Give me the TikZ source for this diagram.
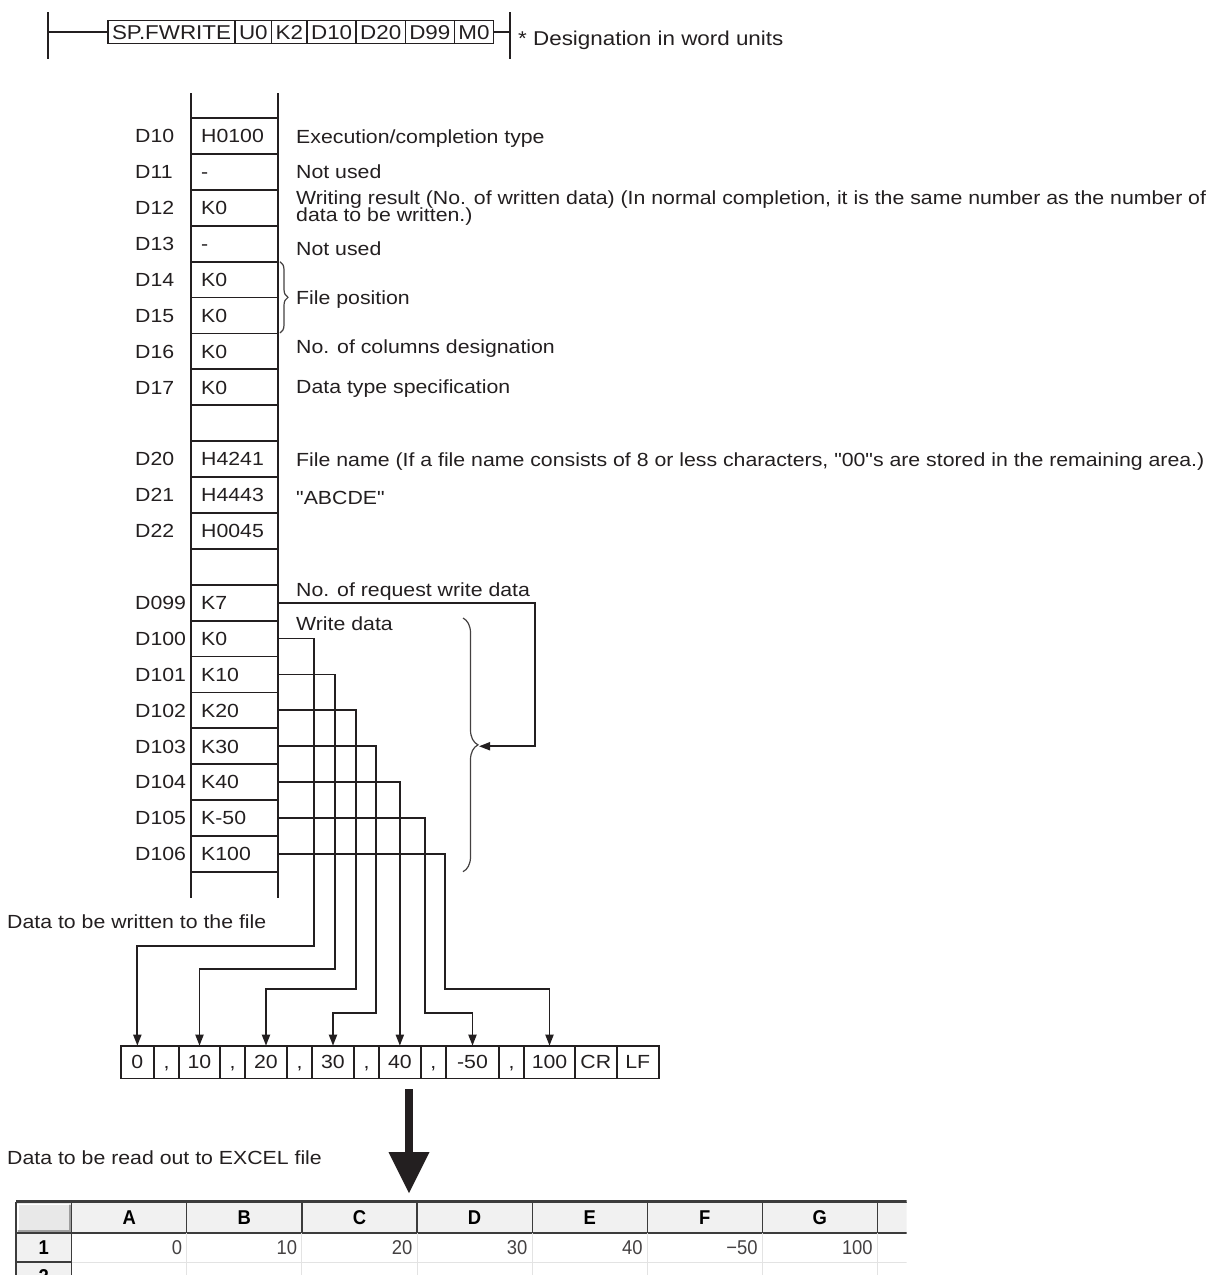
\documentclass[tikz,border=0pt]{standalone}
\usepackage{fontspec}
\setmainfont{Liberation Sans}[FakeStretch=1.12,Ligatures=TeXOff]
\newfontfamily\sheetfont{Liberation Sans}[FakeStretch=0.92]
\usetikzlibrary{positioning,arrows.meta,decorations.pathreplacing}
\definecolor{ink}{HTML}{231F20}
\definecolor{hdrfill}{HTML}{F1F1F1}
\definecolor{gridline}{HTML}{E3E3E3}
\definecolor{sheetdark}{HTML}{3C3C3C}

\begin{document}
\begin{tikzpicture}[x=1pt,y=-1pt,
  txt/.style={inner sep=0pt,anchor=west,text height=13.6pt,text depth=0pt,text=ink,font=\fontsize{19}{19}\selectfont},
  reg/.style={draw=ink,line width=1.8pt,minimum width=86.7pt,minimum height=35.9pt,inner sep=0pt,outer sep=0pt},
  csv/.style={draw=ink,line width=1.6pt,minimum height=32.8pt,inner sep=0pt,outer sep=0pt,text height=13.6pt,text depth=0pt,text=ink,font=\fontsize{19}{19}\selectfont},
  ins/.style={draw=ink,line width=1.4pt,minimum height=22.5pt,inner xsep=4pt,inner ysep=0pt,outer sep=0pt,text height=14.3pt,text depth=0pt,text=ink,font=\fontsize{20}{20}\selectfont},
  wire/.style={draw=ink,line width=1.8pt},
  tip/.style={-{Triangle[length=11pt,width=8pt]}},
  curly/.style={draw=ink!85,line width=1.2pt,decorate,decoration={brace,amplitude=#1}},
  hdr/.style={draw=sheetdark,line width=1.2pt,fill=hdrfill,minimum width=115.1pt,minimum height=30.5pt,inner sep=0pt,outer sep=0pt,text height=14.3pt,text depth=0pt,font=\sheetfont\bfseries\fontsize{20}{20}\selectfont},
  cellnum/.style={inner sep=0pt,anchor=east,text height=14.3pt,text depth=0pt,text=ink!85,font=\sheetfont\fontsize{20}{20}\selectfont}]
\useasboundingbox (0,0) rectangle (1212,1275);

% ladder line
\draw[ink,line width=2.4pt] (48,12) -- (48,59);
\draw[ink,line width=2.4pt] (510,12) -- (510,59);
\coordinate (lr) at (48,32);
\coordinate (rr) at (510,32);
\node[ins,anchor=west,minimum width=126pt] (i1) at (108,32) {SP.FWRITE};
\foreach \t [count=\i from 2, remember=\i as \j (initially 1)] in {U0,K2,D10,D20,D99,M0}
  \node[ins,right=0pt of i\j] (i\i) {\t};
\draw[ink,line width=1.5pt] (lr) -- (i1.west) (i7.east) -- (rr);
\node[inner sep=0pt,anchor=west,text height=14.3pt,text depth=0pt,text=ink,font=\fontsize{20}{20}\selectfont] (note) at (518,38) {* Designation in word units};

% device memory
\foreach \lab/\val [count=\k from 0, evaluate=\k as \yy using 135.95+35.9*\k] in {D10/H0100,D11/-,D12/K0,D13/-,D14/K0,D15/K0,D16/K0,D17/K0,{}/{},D20/H4241,D21/H4443,D22/H0045,{}/{},D099/K7,D100/K0,D101/K10,D102/K20,D103/K30,D104/K40,D105/K-50,D106/K100} {
  \node[reg] (r\k) at (234.35,\yy) {};
  \node[txt] (l\k) at (135,\yy) {\lab};
  \node[txt] (v\k) at (201,\yy) {\val};
}
\draw[wire] (r0.north west) -- ++(0,-25) (r0.north east) -- ++(0,-25);
\draw[wire] (r20.south west) -- ++(0,26) (r20.south east) -- ++(0,26);

% descriptions
\node[txt] (d0) at (296,136.7) {Execution/completion type};
\node[txt] (d1) at (296,171.7) {Not used};
\node[txt] (d2) at (296,198) {Writing result (No. of written data) (In normal completion, it is the same number as the number of};
\node[txt] (d2b) at (296,215) {data to be written.)};
\node[txt] (d3) at (296,249) {Not used};
\draw[curly=8pt] (280,261.7) -- (280,333);
\node[txt] (d4) at (296,298) {File position};
\node[txt] (d6) at (296,347) {No. of columns designation};
\node[txt] (d7) at (296,387) {Data type specification};
\node[txt] (d9) at (296,459.3) {File name (If a file name consists of 8 or less characters, "00"s are stored in the remaining area.)};
\node[txt] (d10) at (296,498) {"ABCDE"};
\node[txt] (d13) at (296,590) {No. of request write data};
\node[txt] (d14) at (296,623.3) {Write data};
\draw[curly=15pt] (463,618) -- (463,871.7);
\coordinate (wtip) at (479,746.25);
\draw[wire,tip] (r13.east) -| (535,746.25) -- (wtip);

% data written to the file
\node[txt] (wlabel) at (7,921.7) {Data to be written to the file};
\coordinate (f0) at (120.7,1062.1);
\foreach \w/\t [count=\i, remember=\i as \j (initially 0)] in {33.3/0,25/{,},41/10,25/{,},42/20,25/{,},42/30,25/{,},41.7/40,25.3/{,},53/-50,25/{,},51/100,41.7/CR,42/LF}
  \node[csv,minimum width=\w pt,right=0pt of f\j] (f\i) {\t};

\draw[wire,tip] (r14.east) -| (314,945.7) -| (f1.north);
\draw[wire,tip] (r15.east) -| (335,969) -| (f3.north);
\draw[wire,tip] (r16.east) -| (356,989) -| (f5.north);
\draw[wire,tip] (r17.east) -| (376,1013) -| (f7.north);
\draw[wire,tip] (r18.east) -| (f9.north);
\draw[wire,tip] (r19.east) -| (425,1013) -| (f11.north);
\draw[wire,tip] (r20.east) -| (445,989) -| (f13.north);

% read out to EXCEL
\coordinate (bigtop) at (409,1089);
\coordinate (bigtip) at (409,1193);
\draw[ink,line width=8.3pt,-{Triangle[length=41pt,width=41pt,line width=0pt]}] (bigtop) -- (bigtip);
\node[txt] (xlabel) at (7,1158) {Data to be read out to EXCEL file};

\begin{scope}
\clip (0,1190) rectangle (906.7,1275);
\draw[sheetdark,line width=3pt] (16,1201) -- (906.7,1201);
\node[hdr,minimum width=55.7pt,fill=black!9] (corner) at (43.85,1217.75) {};
\draw[white,line width=1.5pt] (18,1230) -- (18,1204.5) -- (69,1204.5);
\draw[black!38,line width=2pt] (18,1230.5) -- (69.5,1230.5) -- (69.5,1204.5);
\foreach \c [count=\i from 0] in {A,B,C,D,E,F,G,{}}
  \node[hdr] (h\i) at ({71.7+115.1*(\i+0.5)},1217.75) {\c};
\foreach \i in {0,...,7}
  \draw[gridline,line width=1pt] (h\i.south east) -- ++(0,45);
\draw[gridline,line width=1pt] (71.7,1262) -- (906.7,1262);
\node[hdr,minimum width=55.7pt,minimum height=29pt] (n1) at (43.85,1247.5) {1};
\node[hdr,minimum width=55.7pt,minimum height=29pt] (n2) at (43.85,1276.5) {2};
\foreach \v [count=\i from 0] in {0,10,20,30,40,−50,100}
  \node[cellnum,xshift=-4.5pt] (x\i) at (h\i.east |- n1.east) {\v};
\end{scope}
\end{tikzpicture}
\end{document}
